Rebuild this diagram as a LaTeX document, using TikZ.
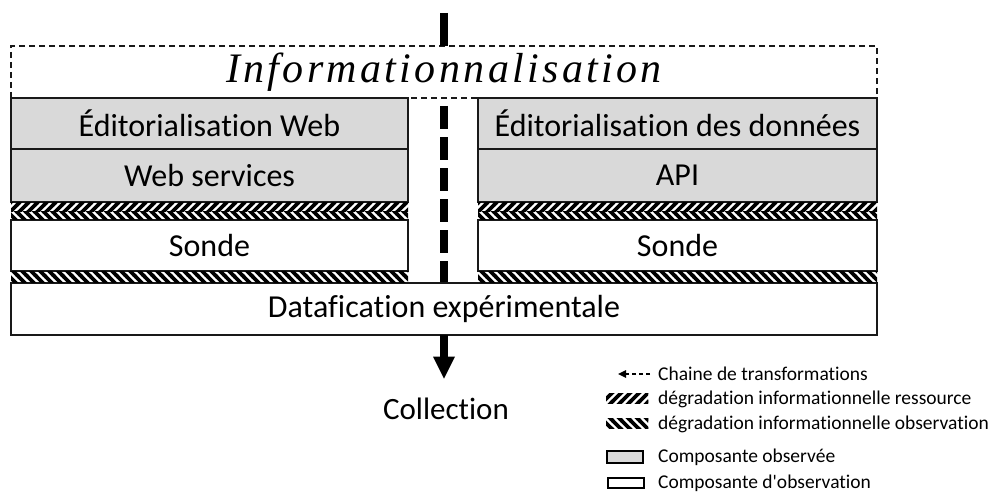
\documentclass[tikz,border=0pt]{standalone}
\usepackage{fontspec}
\setmainfont{Carlito}[Ligatures={TeX,NoCommon,NoRare,NoContextual}, Contextuals=NoAlternate]
\newfontfamily\infofont[LetterSpace=8]{Liberation Serif}
\usetikzlibrary{arrows.meta,patterns}
\definecolor{grisobs}{HTML}{D9D9D9}

\pgfdeclarepatternformonly{ressource}{\pgfqpoint{-1pt}{-1pt}}{\pgfqpoint{10pt}{10pt}}{\pgfqpoint{9pt}{9pt}}{%
  \pgfsetlinewidth{3.6pt}
  \pgfpathmoveto{\pgfqpoint{-1pt}{-1pt}}\pgfpathlineto{\pgfqpoint{10pt}{10pt}}
  \pgfpathmoveto{\pgfqpoint{-1pt}{8pt}}\pgfpathlineto{\pgfqpoint{1pt}{10pt}}
  \pgfpathmoveto{\pgfqpoint{8pt}{-1pt}}\pgfpathlineto{\pgfqpoint{10pt}{1pt}}
  \pgfusepath{stroke}}
\pgfdeclarepatternformonly{observation}{\pgfqpoint{-1pt}{-1pt}}{\pgfqpoint{10pt}{10pt}}{\pgfqpoint{9pt}{9pt}}{%
  \pgfsetlinewidth{3.6pt}
  \pgfpathmoveto{\pgfqpoint{-1pt}{10pt}}\pgfpathlineto{\pgfqpoint{10pt}{-1pt}}
  \pgfpathmoveto{\pgfqpoint{-1pt}{1pt}}\pgfpathlineto{\pgfqpoint{1pt}{-1pt}}
  \pgfpathmoveto{\pgfqpoint{8pt}{10pt}}\pgfpathlineto{\pgfqpoint{10pt}{8pt}}
  \pgfusepath{stroke}}

\tikzset{
  couche/.style={draw=black!90, line width=1.3pt, inner sep=0pt, outer sep=0pt,
    font=\fontsize{32}{38}\selectfont},
  observee/.style={couche, fill=grisobs},
  observante/.style={couche, fill=white},
  chaine/.style={line width=7.7pt, black},
  legende/.style={anchor=west, inner sep=0pt, font=\fontsize{19.5}{23}\selectfont},
}

\begin{document}
\begin{tikzpicture}[x=1pt, y=-1pt]
    \useasboundingbox (0,0) rectangle (992,492);
    \coordinate (depart) at (444,13);
    \node (collection) at (446,409) {\fontsize{31}{36}\selectfont Collection};

    \node[couche, dash pattern=on 6pt off 4pt, line width=1.2pt, fill=white, minimum width=866pt, minimum height=52pt] (info) at (444,72)
        {\infofont\itshape\fontsize{42}{48}\selectfont Informationnalisation};
    \draw[chaine] (depart) -- (info.north);
    \draw[chaine, dash pattern=on 23pt off 8pt, dash phase=23pt] (info.south) -- (444,290);
    \node[observante, minimum width=866pt, minimum height=52pt] (data) at (444,309) {Datafication exp\'erimentale};
    \draw[chaine, shorten >=16pt, -{Triangle[width=22pt,length=22pt,line width=0pt]}] (data.south) -- (data.south |- collection.north);

    \node[observee, minimum width=397pt, minimum height=51pt] (edweb) at (209.5,123.5) {\'Editorialisation Web};
    \node[observee, minimum width=397pt, minimum height=53pt] (webserv) at (209.5,175.5) {Web services};
    \node[observante, minimum width=397pt, minimum height=51pt] (sondeg) at (209.5,245.5) {Sonde};
    \node[observee, minimum width=399pt, minimum height=51pt] (eddon) at (677.5,123.5) {\'Editorialisation des donn\'ees};
    \node[observee, minimum width=399pt, minimum height=53pt] (api) at (677.5,175.5) {API};
    \node[observante, minimum width=399pt, minimum height=51pt] (sonded) at (677.5,245.5) {Sonde};

    \fill[pattern=ressource] (11,202.7) rectangle (408,211);
    \fill[pattern=observation] (11,211) rectangle (408,219.3);
    \fill[pattern=observation] (11,271.7) rectangle (408,282.3);
    \fill[pattern=ressource] (478,202.7) rectangle (877,211);
    \fill[pattern=observation] (478,211) rectangle (877,219.3);
    \fill[pattern=observation] (478,271.7) rectangle (877,282.3);

    \coordinate (legA) at (650,374);
    \coordinate (legB) at (618,374);
    \draw[line width=1.2pt, dash pattern=on 4pt off 3pt, -{Triangle[width=8pt,length=8pt,line width=0pt]}] (legA) -- (legB);
    \node[legende] (legchaine) at (658,374) {Chaine de transformations};
    \fill[pattern=ressource] (606,393) rectangle (648,403);
    \node[legende] (legres) at (658,399) {d\'egradation informationnelle ressource};
    \fill[pattern=observation] (606,418) rectangle (648,428);
    \node[legende] (legobs) at (658,424) {d\'egradation informationnelle observation};
    \draw[line width=1.2pt, fill=grisobs] (607,451) rectangle (643,463);
    \node[legende] (legobservee) at (658,457) {Composante observ\'ee};
    \draw[line width=1.2pt, fill=white] (608,478) rectangle (644,488);
    \node[legende] (legobservante) at (658,483) {Composante d\textquotesingle observation};
\end{tikzpicture}
\end{document}
